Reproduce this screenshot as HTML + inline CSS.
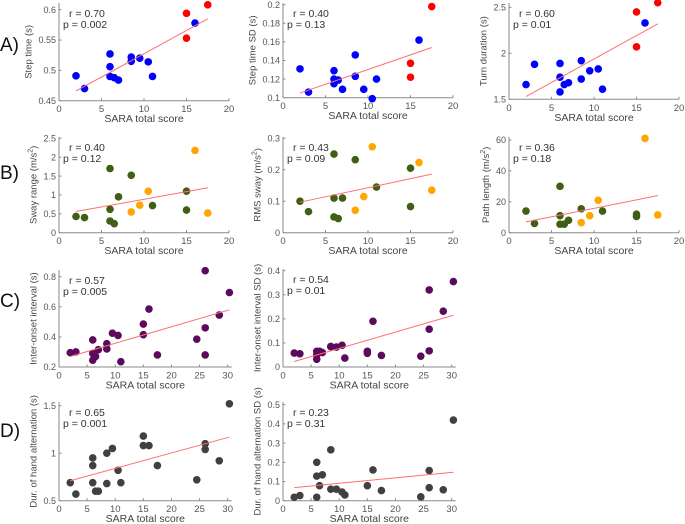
<!DOCTYPE html>
<html><head><meta charset="utf-8"><style>
html,body{margin:0;padding:0;background:#fff}
svg{display:block;font-family:"Liberation Sans",Arial,sans-serif}
</style></head><body>
<svg id="fig" width="685" height="524" viewBox="0 0 685 524" xmlns="http://www.w3.org/2000/svg">
<text x="0" y="51" font-size="19" fill="#111">A)</text>
<text x="0" y="179" font-size="19" fill="#111">B)</text>
<text x="0" y="307" font-size="19" fill="#111">C)</text>
<text x="0" y="437" font-size="19" fill="#111">D)</text>
</svg>
<script>
// ---- data ----
const a1X=[2,3,6,6,6,6.5,7,8.5,8.5,9.5,10.5,11,16,15,15,17.5];
const a1Y=[0.491,0.470,0.527,0.506,0.490,0.488,0.484,0.522,0.515,0.520,0.514,0.490,0.578,0.594,0.553,0.608];
const a1C=["b","b","b","b","b","b","b","b","b","b","b","b","b","r","r","r"];
const a1Fit=[[2,0.466],[17.5,0.585]];
const a2X=[2,3,6,6,6,6.5,7,8.5,8.5,9.5,10.5,11,16,15,15,17.5];
const a2Y=[0.131,0.106,0.129,0.120,0.115,0.119,0.109,0.146,0.123,0.109,0.099,0.120,0.162,0.137,0.122,0.198];
const a2C=a1C;
const a2Fit=[[2,0.105],[17.5,0.154]];
const a3X=[2,3,6,6,6,6.5,7,8.5,8.5,9.5,10.5,11,16,15,15,17.5];
const a3Y=[1.66,1.88,1.89,1.74,1.58,1.66,1.68,1.92,1.72,1.81,1.83,1.61,2.33,2.45,2.07,2.55];
const a3C=a1C;
const a3Fit=[[2,1.53],[17.5,2.32]];
const bX=[2,3,6,6,6,6.5,7,8.5,11,15,15,8.5,9.5,10.5,16,17.5];
const bC=["g","g","g","g","g","g","g","g","g","g","g","o","o","o","o","o"];
const b1Y=[0.43,0.40,1.70,0.62,0.31,0.24,0.95,1.52,0.72,1.10,0.60,0.55,0.73,1.10,2.18,0.52];
const b1Fit=[[2,0.56],[17.5,1.19]];
const b2Y=[0.100,0.067,0.250,0.110,0.050,0.045,0.110,0.232,0.145,0.205,0.083,0.071,0.115,0.273,0.223,0.135];
const b2Fit=[[2,0.097],[17.5,0.186]];
const b3Y=[14,6,30,11,5.5,5.5,8,15.5,14,12,10.5,6.5,11,21,61,11.5];
const b3Fit=[[2,7],[17.5,24]];
const cX=[2,3,6,6,6,6.5,7,8.5,8.5,9.5,10.5,11,15,15,16,17.5,24.5,26,26,26,28.5,30.3];
const c1Y=[0.295,0.30,0.38,0.29,0.245,0.27,0.315,0.355,0.32,0.425,0.41,0.235,0.485,0.415,0.585,0.28,0.385,0.84,0.46,0.28,0.545,0.695];
const c1Fit=[[2,0.27],[30.3,0.58]];
const c2Y=[0.058,0.055,0.065,0.050,0.032,0.065,0.060,0.085,0.085,0.083,0.090,0.037,0.065,0.057,0.190,0.048,0.045,0.320,0.157,0.067,0.232,0.355];
const c2Fit=[[2,0.023],[30.3,0.215]];
const dX=[2,3,6,6,6,6.5,7,8.5,8.5,9.5,10.5,11,15,15,16,17.5,24.5,26,26,28.5,30.3];
const d1Y=[0.69,0.57,0.95,0.87,0.69,0.60,0.60,1.00,0.68,1.05,0.82,0.69,1.18,1.08,1.08,0.87,0.72,1.10,1.04,0.92,1.52];
const d1Fit=[[2,0.71],[30.3,1.17]];
const d2X=[2,3,6,6,6,6.5,7,8.5,8.5,9.5,10.5,11,15,16,17.5,24.5,26,26,28.5,30.3];
const d2Y=[0.018,0.027,0.200,0.128,0.018,0.078,0.135,0.265,0.060,0.060,0.045,0.030,0.078,0.160,0.053,0.020,0.157,0.068,0.057,0.420];
const d2Fit=[[2,0.068],[30.3,0.148]];
const xt20=[0,5,10,15,20];
const xt30=[0,5,10,15,20,25,30];
// ---- drawing ----
const NS="http://www.w3.org/2000/svg";
const svg=document.getElementById('fig');
const COL={b:"#0000ff",r:"#ff0000",g:"#3f5f14",o:"#ffa500",p:"#5c0a5c",k:"#404040"};
function mk(tag,attrs,parent){const e=document.createElementNS(NS,tag);for(const k in attrs)e.setAttribute(k,attrs[k]);(parent||svg).appendChild(e);return e;}
function panel(name,g,xs,ys,cols,fit,xt,yt,ytl,ylabel,r,p){
  const grp=mk('g',{});
  
  
  const sx=v=>g.x0+(v-g.xmin)/(g.xmax-g.xmin)*(g.x1-g.x0);
  const sy=v=>g.yb+(v-g.ymin)/(g.ymax-g.ymin)*(g.yt-g.yb);
  const ax='#8a8a8a';
  const xa=mk('line',{x1:g.x0,y1:g.yb,x2:g.xe,y2:g.yb,stroke:ax,'stroke-width':1},grp);
  
  
  const ya=mk('line',{x1:g.x0,y1:g.yb,x2:g.x0,y2:g.ye,stroke:ax,'stroke-width':1},grp);
  
  
  xt.forEach(v=>{const X=sx(v);
    mk('line',{x1:X,y1:g.yb,x2:X,y2:g.yb-2.5,stroke:ax},grp);
    const t=mk('text',{x:X,y:g.yb+11.5,'font-size':9.5,fill:'#555','text-anchor':'middle'},grp);t.textContent=v;
    
    });
  let maxW=0;
  yt.forEach((v,i)=>{const Y=sy(v);
    mk('line',{x1:g.x0,y1:Y,x2:g.x0+2.5,y2:Y,stroke:ax},grp);
    const t=mk('text',{x:g.x0-3,y:Y+3.2,'font-size':9,fill:'#555','text-anchor':'end'},grp);t.textContent=ytl[i];
    
    
    maxW=Math.max(maxW,t.getComputedTextLength());});
  const xl=mk('text',{x:(g.x0+g.xe)/2,y:g.yb+21.5,'font-size':10.5,fill:'#444','text-anchor':'middle'},grp);
  xl.textContent='SARA total score';
  
  
  const cy=(g.yb+g.ye)/2;
  const lx=g.x0-maxW-10;
  const yl=mk('text',{x:lx,y:cy,'font-size':9.5,fill:'#444','text-anchor':'middle',transform:`rotate(-90 ${lx} ${cy})`},grp);
  yl.innerHTML=ylabel;
  
  
  xs.forEach((v,i)=>{const c=mk('circle',{cx:sx(v),cy:sy(ys[i]),r:3.8,fill:COL[cols[i]]},grp);
    
    });
  const fl=mk('line',{x1:sx(fit[0][0]),y1:sy(fit[0][1]),x2:sx(fit[1][0]),y2:sy(fit[1][1]),stroke:'#ff6f6f','stroke-width':1},grp);
  
  
  const t1=mk('text',{x:g.x0+10,y:g.ye+14,'font-size':10.5,fill:'#333'},grp);t1.textContent='r = '+r;
  
  
  const t2=mk('text',{x:g.x0+4,y:g.ye+25,'font-size':10.5,fill:'#333'},grp);t2.textContent='p = '+p;
  
  
}
const L1=59,L2=283,L3=509,W20=170,W30=168.7;
function G20(x0,yb,ye,ymin,ymax,yt){return {x0:x0,x1:x0+W20,xe:x0+W20,xmin:0,xmax:20,yb:yb,ye:ye,ymin:ymin,ymax:ymax,yt:yt};}
function G30(x0,yb,ye,ymin,ymax,yt){return {x0:x0,x1:x0+W30,xe:x0+W30+4,xmin:0,xmax:30,yb:yb,ye:ye,ymin:ymin,ymax:ymax,yt:yt};}
panel('step-time-chart',G20(L1,100.7,3,0.45,0.6,9.7),a1X,a1Y,a1C,a1Fit,xt20,[0.45,0.5,0.55,0.6],['0.45','0.5','0.55','0.6'],'Step time (s)','0.70','0.002');
panel('step-time-sd-chart',G20(L2,97.7,3,0.1,0.2,4.7),a2X,a2Y,a2C,a2Fit,xt20,[0.1,0.12,0.14,0.16,0.18,0.2],['0.1','0.12','0.14','0.16','0.18','0.2'],'Step time SD (s)','0.40','0.13');
panel('turn-duration-chart',G20(L3,99.3,3,1.5,2.5,7.3),a3X,a3Y,a3C,a3Fit,xt20,[1.5,2,2.5],['1.5','2','2.5'],'Turn duration (s)','0.60','0.01');
panel('sway-range-chart',G20(L1,232.7,137,0,2.5,138.3),bX,b1Y,bC,b1Fit,xt20,[0,0.5,1,1.5,2,2.5],['0','0.5','1','1.5','2','2.5'],'Sway range (m/s<tspan dy="-4" font-size="7">2</tspan><tspan dy="4">)</tspan>','0.40','0.12');
panel('rms-sway-chart',G20(L2,232.7,137,0,0.3,138.3),bX,b2Y,bC,b2Fit,xt20,[0,0.1,0.2,0.3],['0','0.1','0.2','0.3'],'RMS sway (m/s<tspan dy="-4" font-size="7">2</tspan><tspan dy="4">)</tspan>','0.43','0.09');
panel('path-length-chart',G20(L3,232.7,137,0,60,140),bX,b3Y,bC,b3Fit,xt20,[0,20,40,60],['0','20','40','60'],'Path length (m/s<tspan dy="-4" font-size="7">2</tspan><tspan dy="4">)</tspan>','0.36','0.18');
panel('inter-onset-interval-chart',G30(L1,367,270,0.2,0.8,276.7),cX,c1Y,cX.map(()=>'p'),c1Fit,xt30,[0.2,0.4,0.6,0.8],['0.2','0.4','0.6','0.8'],'Inter-onset interval (s)','0.57','0.005');
panel('inter-onset-interval-sd-chart',G30(L2,367,269,0,0.4,270.7),cX,c2Y,cX.map(()=>'p'),c2Fit,xt30,[0,0.1,0.2,0.3,0.4],['0','0.1','0.2','0.3','0.4'],'Inter-onset interval SD (s)','0.54','0.01');
panel('hand-alternation-chart',G30(L1,500.7,402,0.5,1.5,405.7),dX,d1Y,dX.map(()=>'k'),d1Fit,xt30,[0.5,1,1.5],['0.5','1','1.5'],'Dur. of hand alternation (s)','0.65','0.001');
panel('hand-alternation-sd-chart',G30(L2,500.7,402,0,0.5,404.7),d2X,d2Y,d2X.map(()=>'k'),d2Fit,xt30,[0,0.1,0.2,0.3,0.4,0.5],['0','0.1','0.2','0.3','0.4','0.5'],'Dur. of hand alternation SD (s)','0.23','0.31');
</script>
</body></html>
